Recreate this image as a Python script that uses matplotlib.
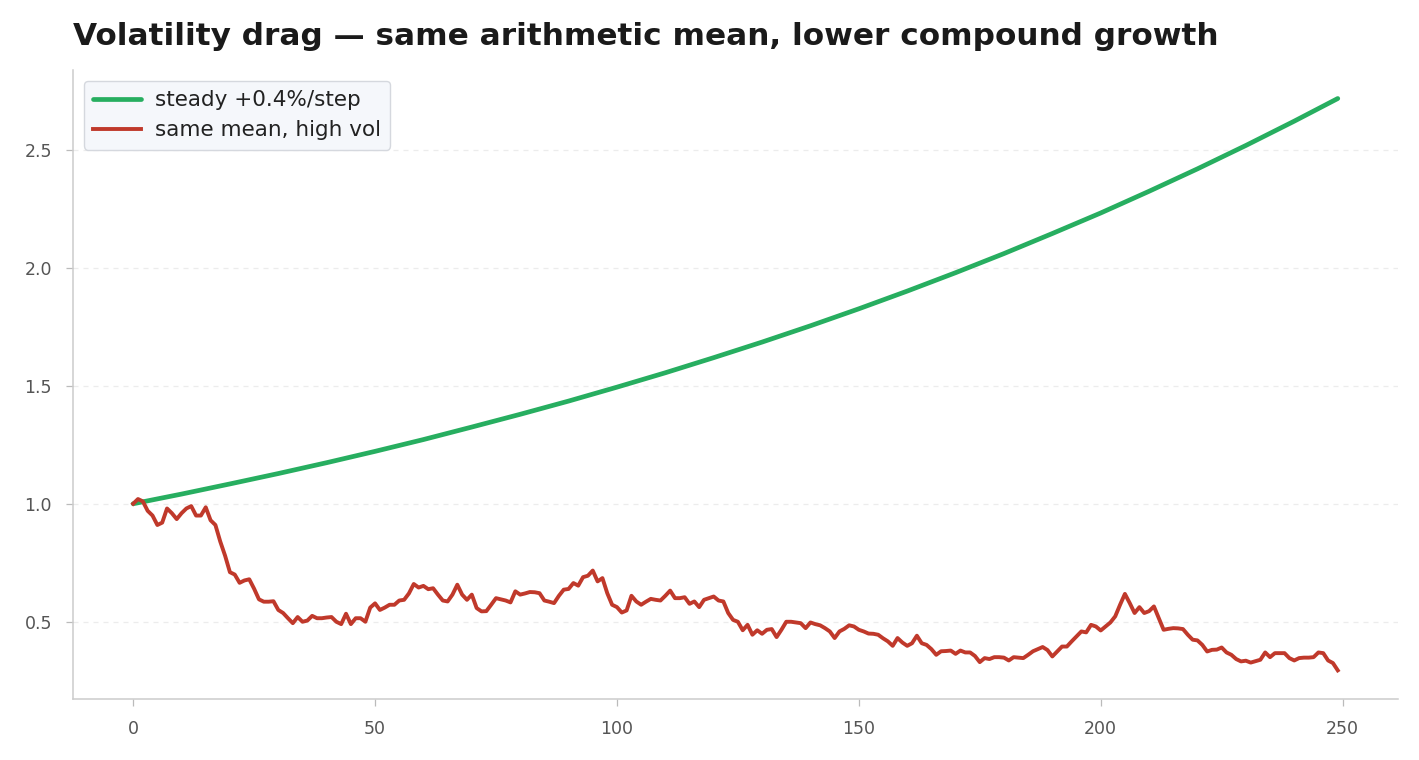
import matplotlib
matplotlib.use("Agg")
import matplotlib.pyplot as plt

# steady growth curve, sampled every 10 steps (plus last step)
steady_t = [0, 10, 20, 30, 40, 50, 60, 70, 80, 90, 100, 110, 120, 130, 140,
            150, 160, 170, 180, 190, 200, 210, 220, 230, 240, 249]
steady_v = [1.000, 1.041, 1.084, 1.128, 1.174, 1.222, 1.272, 1.325, 1.379, 1.435,
            1.494, 1.555, 1.619, 1.685, 1.754, 1.826, 1.901, 1.979, 2.060, 2.145,
            2.232, 2.324, 2.419, 2.518, 2.621, 2.717]

# high-vol path, one value per step
vol_v = [
    1.00, 1.02, 1.01, 0.97, 0.95, 0.91, 0.92, 0.98, 0.96, 0.935,
    0.96, 0.98, 0.99, 0.95, 0.95, 0.985, 0.93, 0.91, 0.84, 0.78,
    0.71, 0.70, 0.665, 0.675, 0.68, 0.64, 0.595, 0.585, 0.585, 0.587,
    0.55, 0.537, 0.515, 0.494, 0.52, 0.50, 0.505, 0.525, 0.515, 0.515,
    0.518, 0.52, 0.50, 0.49, 0.534, 0.49, 0.515, 0.515, 0.50, 0.56,
    0.578, 0.55, 0.56, 0.572, 0.572, 0.59, 0.593, 0.62, 0.66, 0.645,
    0.652, 0.638, 0.642, 0.615, 0.59, 0.586, 0.615, 0.657, 0.615, 0.593,
    0.615, 0.558, 0.544, 0.545, 0.572, 0.60, 0.595, 0.59, 0.582, 0.629,
    0.615, 0.62, 0.626, 0.625, 0.621, 0.59, 0.585, 0.579, 0.61, 0.636,
    0.639, 0.664, 0.653, 0.689, 0.695, 0.717, 0.671, 0.685, 0.621, 0.572,
    0.562, 0.539, 0.548, 0.61, 0.586, 0.572, 0.585, 0.597, 0.593, 0.59,
    0.61, 0.632, 0.60, 0.60, 0.604, 0.576, 0.586, 0.562, 0.593, 0.60,
    0.607, 0.59, 0.586, 0.537, 0.508, 0.50, 0.464, 0.487, 0.445, 0.464,
    0.449, 0.466, 0.469, 0.435, 0.466, 0.50, 0.50, 0.497, 0.494, 0.473,
    0.497, 0.49, 0.485, 0.473, 0.459, 0.431, 0.459, 0.47, 0.485, 0.48,
    0.466, 0.459, 0.45, 0.449, 0.445, 0.43, 0.417, 0.398, 0.431, 0.412,
    0.398, 0.409, 0.441, 0.409, 0.402, 0.384, 0.36, 0.375, 0.376, 0.378,
    0.364, 0.378, 0.37, 0.37, 0.355, 0.329, 0.346, 0.342, 0.35, 0.35,
    0.348, 0.336, 0.35, 0.348, 0.346, 0.36, 0.375, 0.384, 0.393, 0.38,
    0.353, 0.374, 0.395, 0.395, 0.417, 0.438, 0.459, 0.455, 0.487, 0.48,
    0.463, 0.48, 0.497, 0.523, 0.572, 0.618, 0.579, 0.537, 0.562, 0.537,
    0.545, 0.565, 0.515, 0.466, 0.47, 0.473, 0.472, 0.469, 0.445, 0.424,
    0.421, 0.402, 0.374, 0.381, 0.382, 0.391, 0.37, 0.36, 0.342, 0.332,
    0.335, 0.327, 0.333, 0.339, 0.37, 0.35, 0.367, 0.367, 0.367, 0.346,
    0.336, 0.346, 0.348, 0.348, 0.35, 0.37, 0.367, 0.336, 0.325, 0.294,
]
vol_t = list(range(len(vol_v)))

GREEN = "#27ae60"
RED = "#c0392b"

fig = plt.figure(figsize=(14.19, 7.6), dpi=100)
ax = fig.add_axes([0.0514, 0.0803, 0.9338, 0.8277])

ax.plot(steady_t, steady_v, color=GREEN, lw=3.4, label="steady +0.4%/step",
        solid_capstyle="round")
ax.plot(vol_t, vol_v, color=RED, lw=2.8, label="same mean, high vol",
        solid_joinstyle="round")

ax.set_xticks([0, 50, 100, 150, 200, 250])
ax.set_yticks([0.5, 1.0, 1.5, 2.0, 2.5])
ax.grid(True, axis="y", ls=(0, (4, 4)), color="#ececec", lw=0.9)
ax.set_axisbelow(True)
for s in ["top", "right"]:
    ax.spines[s].set_visible(False)
for s in ["left", "bottom"]:
    ax.spines[s].set_color("#cccccc")
    ax.spines[s].set_linewidth(1.1)
ax.tick_params(colors="#555555", labelsize=12.5, length=5, width=0.9,
               color="#bbbbbb", pad=10)

ax.set_title("Volatility drag \u2014 same arithmetic mean, lower compound growth",
             loc="left", fontsize=22.4, fontweight="bold", color="#1a1a1a",
             pad=18)

leg = ax.legend(loc="upper left", fontsize=15.5, frameon=True, fancybox=True,
                handlelength=2.2, handletextpad=0.65, borderpad=0.45,
                labelspacing=0.45, borderaxespad=0.5)
leg.get_frame().set_facecolor("#f5f7fb")
leg.get_frame().set_edgecolor("#d5d8de")
leg.get_frame().set_alpha(1.0)
for t in leg.get_texts():
    t.set_color("#222222")

fig.savefig("out.png", dpi=100, facecolor="white")
